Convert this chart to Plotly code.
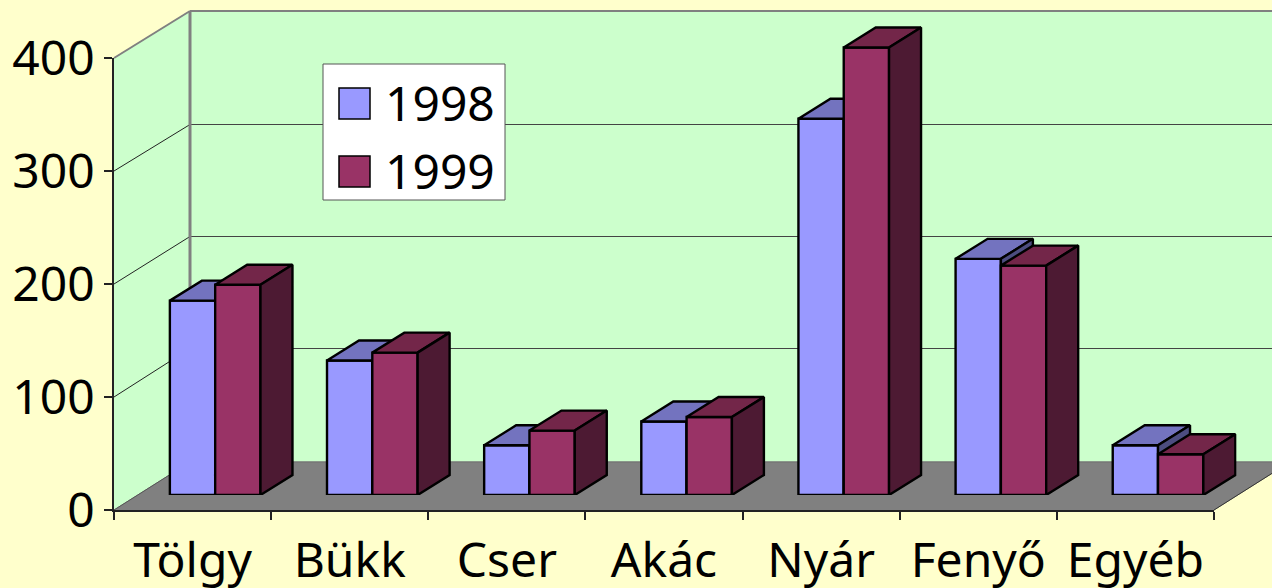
import plotly.graph_objects as go

categories = ["Tölgy", "Bükk", "Cser", "Akác", "Nyár", "Fenyő", "Egyéb"]
values_1998 = [172, 119, 44, 65, 333, 209, 44]
values_1999 = [186, 126, 57, 69, 396, 203, 36]
y_ticks = [0, 100, 200, 300, 400]

W, H = 1272, 588
FONT = "Noto Sans"
FS = 48
X0, X1 = 114, 1214      # front floor edge, pixels
Y0, Y400 = 510, 58      # value axis, pixels
PX_PER_UNIT = (Y0 - Y400) / 400
BACK_PX_PER_UNIT = 1.12
DEPTH_X, DEPTH_Y = 76, 48       # wall depth, pixels
BAR_SHIFT_X, BAR_SHIFT_Y = 22.6, 15
BAR_DX, BAR_DY = 32, 20
CAT_PX = (X1 - X0) / len(categories)
BAR_W = 45.3 / CAT_PX
DX = BAR_DX / CAT_PX
DY = BAR_DY / PX_PER_UNIT
YTOP = (Y0 - BAR_SHIFT_Y) / PX_PER_UNIT

def px(x):
    return x / W
def py(y):
    return 1 - y / H
def poly(points, fill, line=None, width=1):
    path = "M" + "L".join(f"{px(a):.5f},{py(b):.5f}" for a, b in points) + "Z"
    return dict(type="path", path=path, xref="paper", yref="paper", layer="below",
                fillcolor=fill, line=dict(color=line or fill, width=width))
def seg(a, b, c, d, color, width):
    return dict(type="line", x0=px(a), y0=py(b), x1=px(c), y1=py(d), xref="paper", yref="paper",
                layer="below", line=dict(color=color, width=width))

BX, BY = X0 + DEPTH_X, Y0 - DEPTH_Y
TOPF, TOPB = Y400, 11
shapes = [
    poly([(X0, Y0), (X0, TOPF), (BX, TOPB), (BX, BY)], "#CCFFCC"),
    poly([(BX, BY), (BX, TOPB), (W + 10, TOPB), (W + 10, BY)], "#CCFFCC"),
    poly([(X0, Y0), (BX, BY), (X1 + DEPTH_X, BY), (X1, Y0)], "#808080"),
]
for v in y_ticks[1:-1]:
    front = Y0 - v * PX_PER_UNIT
    back = BY - 1.5 - v * BACK_PX_PER_UNIT
    shapes.append(seg(X0, front, BX, back, "#222222", 1))
    shapes.append(seg(BX, back, W + 10, back, "#444444", 1))
shapes += [
    seg(X0, TOPF, BX, TOPB, "#808080", 2),
    seg(BX, TOPB, W + 10, TOPB, "#808080", 2),
    seg(BX, TOPB, BX, BY, "#808080", 3),
    seg(BX, BY, W + 10, BY, "#707070", 1),
    seg(X0, Y0, BX, BY, "#555555", 1),
    seg(X1, Y0, X1 + DEPTH_X, BY, "#333333", 1),
]
# legend box
LEG = [("1998", "#9999FF", 88), ("1999", "#993366", 156)]
shapes.append(dict(type="rect", xref="paper", yref="paper", x0=px(323), x1=px(505), y0=py(200), y1=py(64),
                   fillcolor="white", line=dict(color="#555555", width=1), layer="above"))
annotations = []
for name, col, top in LEG:
    shapes.append(dict(type="rect", xref="paper", yref="paper", x0=px(339), x1=px(370), y0=py(top + 31), y1=py(top),
                       fillcolor=col, line=dict(color="black", width=1.5), layer="above"))
    annotations.append(dict(text=name, xref="paper", yref="paper", x=px(383), y=py(top + 14.5), xanchor="left",
                            yanchor="middle", showarrow=False, font=dict(family=FONT, size=FS, color="black")))

fig = go.Figure()
# invisible trace that gives the category axis its labels
fig.add_trace(go.Scatter(x=categories, y=[None] * len(categories), xaxis="x", yaxis="y",
                         mode="markers", showlegend=False, hoverinfo="skip"))

def add_series(values, name, front, top, side, offset, xa, ya):
    xs = list(range(len(values)))
    fig.add_trace(go.Bar(x=xs, y=values, name=name, width=BAR_W, offset=offset, xaxis=xa, yaxis=ya,
                         marker=dict(color=front, line=dict(color="black", width=2.4)), showlegend=False))
    tx, ty, sx, sy = [], [], [], []
    for i, v in enumerate(values):
        l = i + offset
        r = l + BAR_W
        tx += [l, l + DX, r + DX, r, l, None]
        ty += [v, v + DY, v + DY, v, v, None]
        sx += [r, r + DX, r + DX, r, r, None]
        sy += [v, v + DY, DY, 0, v, None]
    for px_, py_, col in ((tx, ty, top), (sx, sy, side)):
        fig.add_trace(go.Scatter(x=px_, y=py_, mode="lines", fill="toself", fillcolor=col,
                                 line=dict(color="black", width=2.4), xaxis=xa, yaxis=ya,
                                 showlegend=False, hoverinfo="skip", cliponaxis=False))

add_series(values_1998, "1998", "#9999FF", "#7373BF", "#4D4D80", -BAR_W, "x2", "y2")
add_series(values_1999, "1999", "#993366", "#732649", "#4D1A33", 0, "x3", "y3")

bar_xaxis = dict(domain=[px(X0 + BAR_SHIFT_X), px(X1 + BAR_SHIFT_X)], range=[-0.5, len(categories) - 0.5],
                 visible=False, fixedrange=True)
bar_yaxis = dict(domain=[py(Y0 - BAR_SHIFT_Y), 1], range=[0, YTOP], visible=False, fixedrange=True)

fig.update_layout(
    width=W, height=H, margin=dict(l=0, r=0, t=0, b=0, pad=0, autoexpand=False),
    paper_bgcolor="#FFFFCC", plot_bgcolor="rgba(0,0,0,0)",
    font=dict(family=FONT, size=FS, color="black"),
    showlegend=False, shapes=shapes, annotations=annotations,
    xaxis=dict(domain=[px(X0), px(X1)], type="category", categoryorder="array", categoryarray=categories,
               range=[-0.5, len(categories) - 0.5], tickson="boundaries", ticks="outside", ticklen=8,
               tickcolor="#222222", tickwidth=1.5, showline=True, linecolor="#222222", linewidth=1.5,
               showgrid=False, zeroline=False, anchor="y", tickangle=0, ticklabelstandoff=8,
               tickfont=dict(family=FONT, size=FS, color="black")),
    yaxis=dict(domain=[py(Y0), py(Y400)], range=[0, 400], tickmode="array", tickvals=y_ticks, ticks="outside",
               ticklen=8, tickcolor="#222222", tickwidth=1.5, showline=True, linecolor="#222222", linewidth=1.5,
               showgrid=False, zeroline=False, anchor="x",
               tickfont=dict(family=FONT, size=FS, color="black")),
    xaxis2=dict(**bar_xaxis, anchor="y2"),
    yaxis2=dict(**bar_yaxis, anchor="x2"),
    xaxis3=dict(**bar_xaxis, anchor="y3"),
    yaxis3=dict(**bar_yaxis, anchor="x3"),
)
fig.write_html("out.html", config={"displayModeBar": False},
               post_script="document.body.style.margin='0';document.documentElement.style.background='#FFFFCC';")
